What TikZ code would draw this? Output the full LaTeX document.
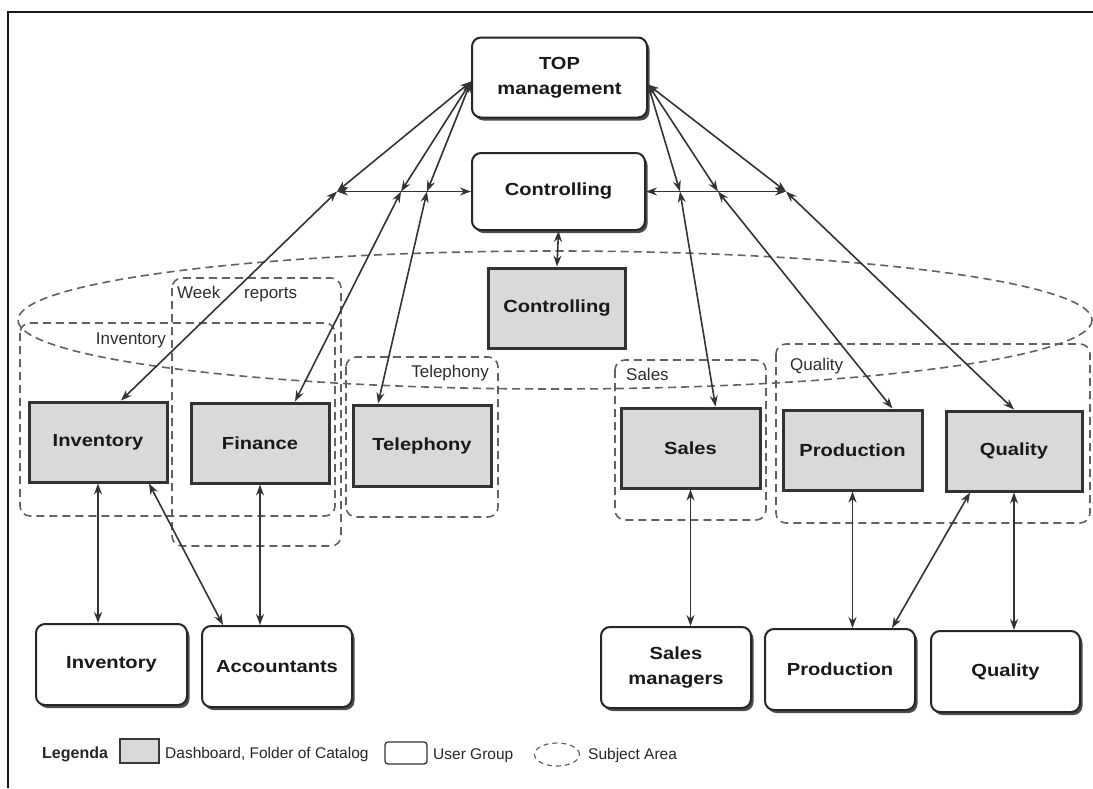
\documentclass[tikz,border=0pt]{standalone}
\usepackage{fontspec}
\setmainfont{Liberation Sans}
\newfontfamily\widefont[FakeStretch=1.15]{Liberation Sans}
\usetikzlibrary{arrows.meta,shadows,shapes.geometric}

\tikzset{
  boxtext/.style={font={\widefont\bfseries\fontsize{17.5}{25}\selectfont}, text=black!90, align=center},
  panel/.style={boxtext, draw=black!80, line width=3pt, fill=gray!30, inner sep=0pt},
  usergroup/.style={boxtext, draw=black!85, line width=2pt, fill=white,
    rounded corners=9pt, inner sep=0pt,
    drop shadow={shadow xshift=2.5pt, shadow yshift=-3pt, shadow scale=1, fill=black!70, opacity=1}},
  arealine/.style={draw=black!62, line width=1.6pt, dash pattern=on 8pt off 5pt, rounded corners=10pt},
  arealabel/.style={font={\fontsize{17}{20}\selectfont}, text=black!82, inner sep=0pt},
  legtext/.style={font={\fontsize{15.5}{18}\selectfont}, text=black!85, inner sep=0pt},
  link/.style={draw=black!80, line width=1.6pt,
    {Stealth[length=11pt,width=8pt]}-{Stealth[length=11pt,width=8pt]}},
}

\begin{document}
\begin{tikzpicture}[x=1pt,y=-1pt]
\useasboundingbox (0,0) rectangle (1093,788);

% page frame
\draw[line width=2pt, black!90] (8,788) -- (8,12) -- (1093,12);

% subject areas
\draw[arealine, rounded corners=0pt] (555,320) ellipse [x radius=537, y radius=69];
\draw[arealine] (20,323) rectangle (335,516);
\draw[arealine] (172,278) rectangle (341,546);
\draw[arealine] (346,357) rectangle (498,517);
\draw[arealine] (615,360) rectangle (766,520);
\draw[arealine] (776,344) rectangle (1090,523);

\node[arealabel, anchor=base east] (linv) at (166,344) {Inventory};
\node[arealabel, anchor=base west] (lweek) at (177,298) {Week};
\node[arealabel, anchor=base west] (lrep) at (244,298) {reports};
\node[arealabel, anchor=base east] (ltel) at (489,377) {Telephony};
\node[arealabel, anchor=base west] (lsal) at (626,380) {Sales};
\node[arealabel, anchor=base west] (lqua) at (790,370) {Quality};

% management and controlling
\node[usergroup, minimum width=175pt, minimum height=80pt] (top) at (559.5,77.5) {TOP\\management};
\node[usergroup, minimum width=173pt, minimum height=77pt] (ctrl) at (558.5,191.5) {Controlling};

% dashboards / catalog folders
\node[panel, minimum width=137pt, minimum height=80pt] (gctrl) at (557,308) {Controlling};
\node[panel, minimum width=138pt, minimum height=80pt] (ginv) at (98,442) {Inventory};
\node[panel, minimum width=138pt, minimum height=80pt] (gfin) at (260,443) {Finance};
\node[panel, minimum width=138pt, minimum height=81pt] (gtel) at (422,445.5) {Telephony};
\node[panel, minimum width=139pt, minimum height=80pt] (gsal) at (690.5,448) {Sales};
\node[panel, minimum width=139pt, minimum height=80pt] (gpro) at (852.5,450) {Production};
\node[panel, minimum width=136pt, minimum height=80pt] (gqua) at (1014,451) {Quality};

% user groups
\node[usergroup, minimum width=151pt, minimum height=81pt] (uinv) at (111.5,664.5) {Inventory};
\node[usergroup, minimum width=150pt, minimum height=81pt] (uacc) at (277,666.5) {Accountants};
\node[usergroup, minimum width=150pt, minimum height=81pt] (usal) at (676,667.5) {Sales\\managers};
\node[usergroup, minimum width=150pt, minimum height=81pt] (upro) at (840,669.5) {Production};
\node[usergroup, minimum width=149pt, minimum height=81pt] (uqua) at (1005.5,671.5) {Quality};

% junctions on the controlling bus
\coordinate (J1) at (337,191.5);
\coordinate (J2) at (401,191.5);
\coordinate (J3) at (427,191.5);
\coordinate (J4) at (680,191.5);
\coordinate (J5) at (718,191.5);
\coordinate (J6) at (786,191.5);

% controlling bus
\draw[link] (J1) -- (ctrl.west);
\draw[link] (ctrl.east) -- (J6);
\draw[link] (ctrl.south) -- (gctrl.north);

% top management to the bus
\draw[link] ([yshift=-4pt]top.west) -- (J1);
\draw[link] ([yshift=-4pt]top.west) -- (J2);
\draw[link] ([yshift=-4pt]top.west) -- (J3);
\draw[link] ([yshift=-7pt]top.east) -- (J4);
\draw[link] ([yshift=-7pt]top.east) -- (J5);
\draw[link] ([yshift=-7pt]top.east) -- (J6);

% bus to dashboards
\draw[link] (J1) -- ([xshift=23pt]ginv.north);
\draw[link] (J2) -- ([xshift=35pt]gfin.north);
\draw[link] (J3) -- ([xshift=-44pt]gtel.north);
\draw[link] (J4) -- ([xshift=25pt]gsal.north);
\draw[link] (J5) -- ([xshift=40pt]gpro.north);
\draw[link] (J6) -- (gqua.north);

% dashboards to user groups
\draw[link] (ginv.south) -- (ginv.south |- uinv.north);
\draw[link] ([xshift=51pt]ginv.south) -- ([xshift=-54pt]uacc.north);
\draw[link] (gfin.south) -- (gfin.south |- uacc.north);
\draw[link] (gsal.south) -- (gsal.south |- usal.north);
\draw[link] (gpro.south) -- (gpro.south |- upro.north);
\draw[link] ([xshift=-44pt]gqua.south) -- ([xshift=52pt]upro.north);
\draw[link] (gqua.south) -- (gqua.south |- uqua.north);

% legend
\node[legtext, font={\bfseries\fontsize{16}{18}\selectfont}, anchor=base west] (legtitle) at (42,758) {Legenda};
\node[draw=black!78, line width=1.5pt, fill=gray!30, minimum width=39pt, minimum height=24pt, inner sep=0pt] (legpanel) at (139.5,751) {};
\node[legtext, anchor=base west] (legpaneltext) at (165,758) {Dashboard, Folder of Catalog};
\node[draw=black!80, line width=1.3pt, fill=white, rounded corners=3pt, minimum width=42pt, minimum height=22pt, inner sep=0pt] (leguser) at (406,753) {};
\node[legtext, anchor=base west] (legusertext) at (433,759) {User Group};
\node[draw=black!62, line width=1.2pt, dash pattern=on 5pt off 4pt, ellipse, minimum width=45pt, minimum height=23pt, inner sep=0pt] (legarea) at (557,754.5) {};
\node[legtext, anchor=base west] (legareatext) at (588,759) {Subject Area};
\end{tikzpicture}
\end{document}
